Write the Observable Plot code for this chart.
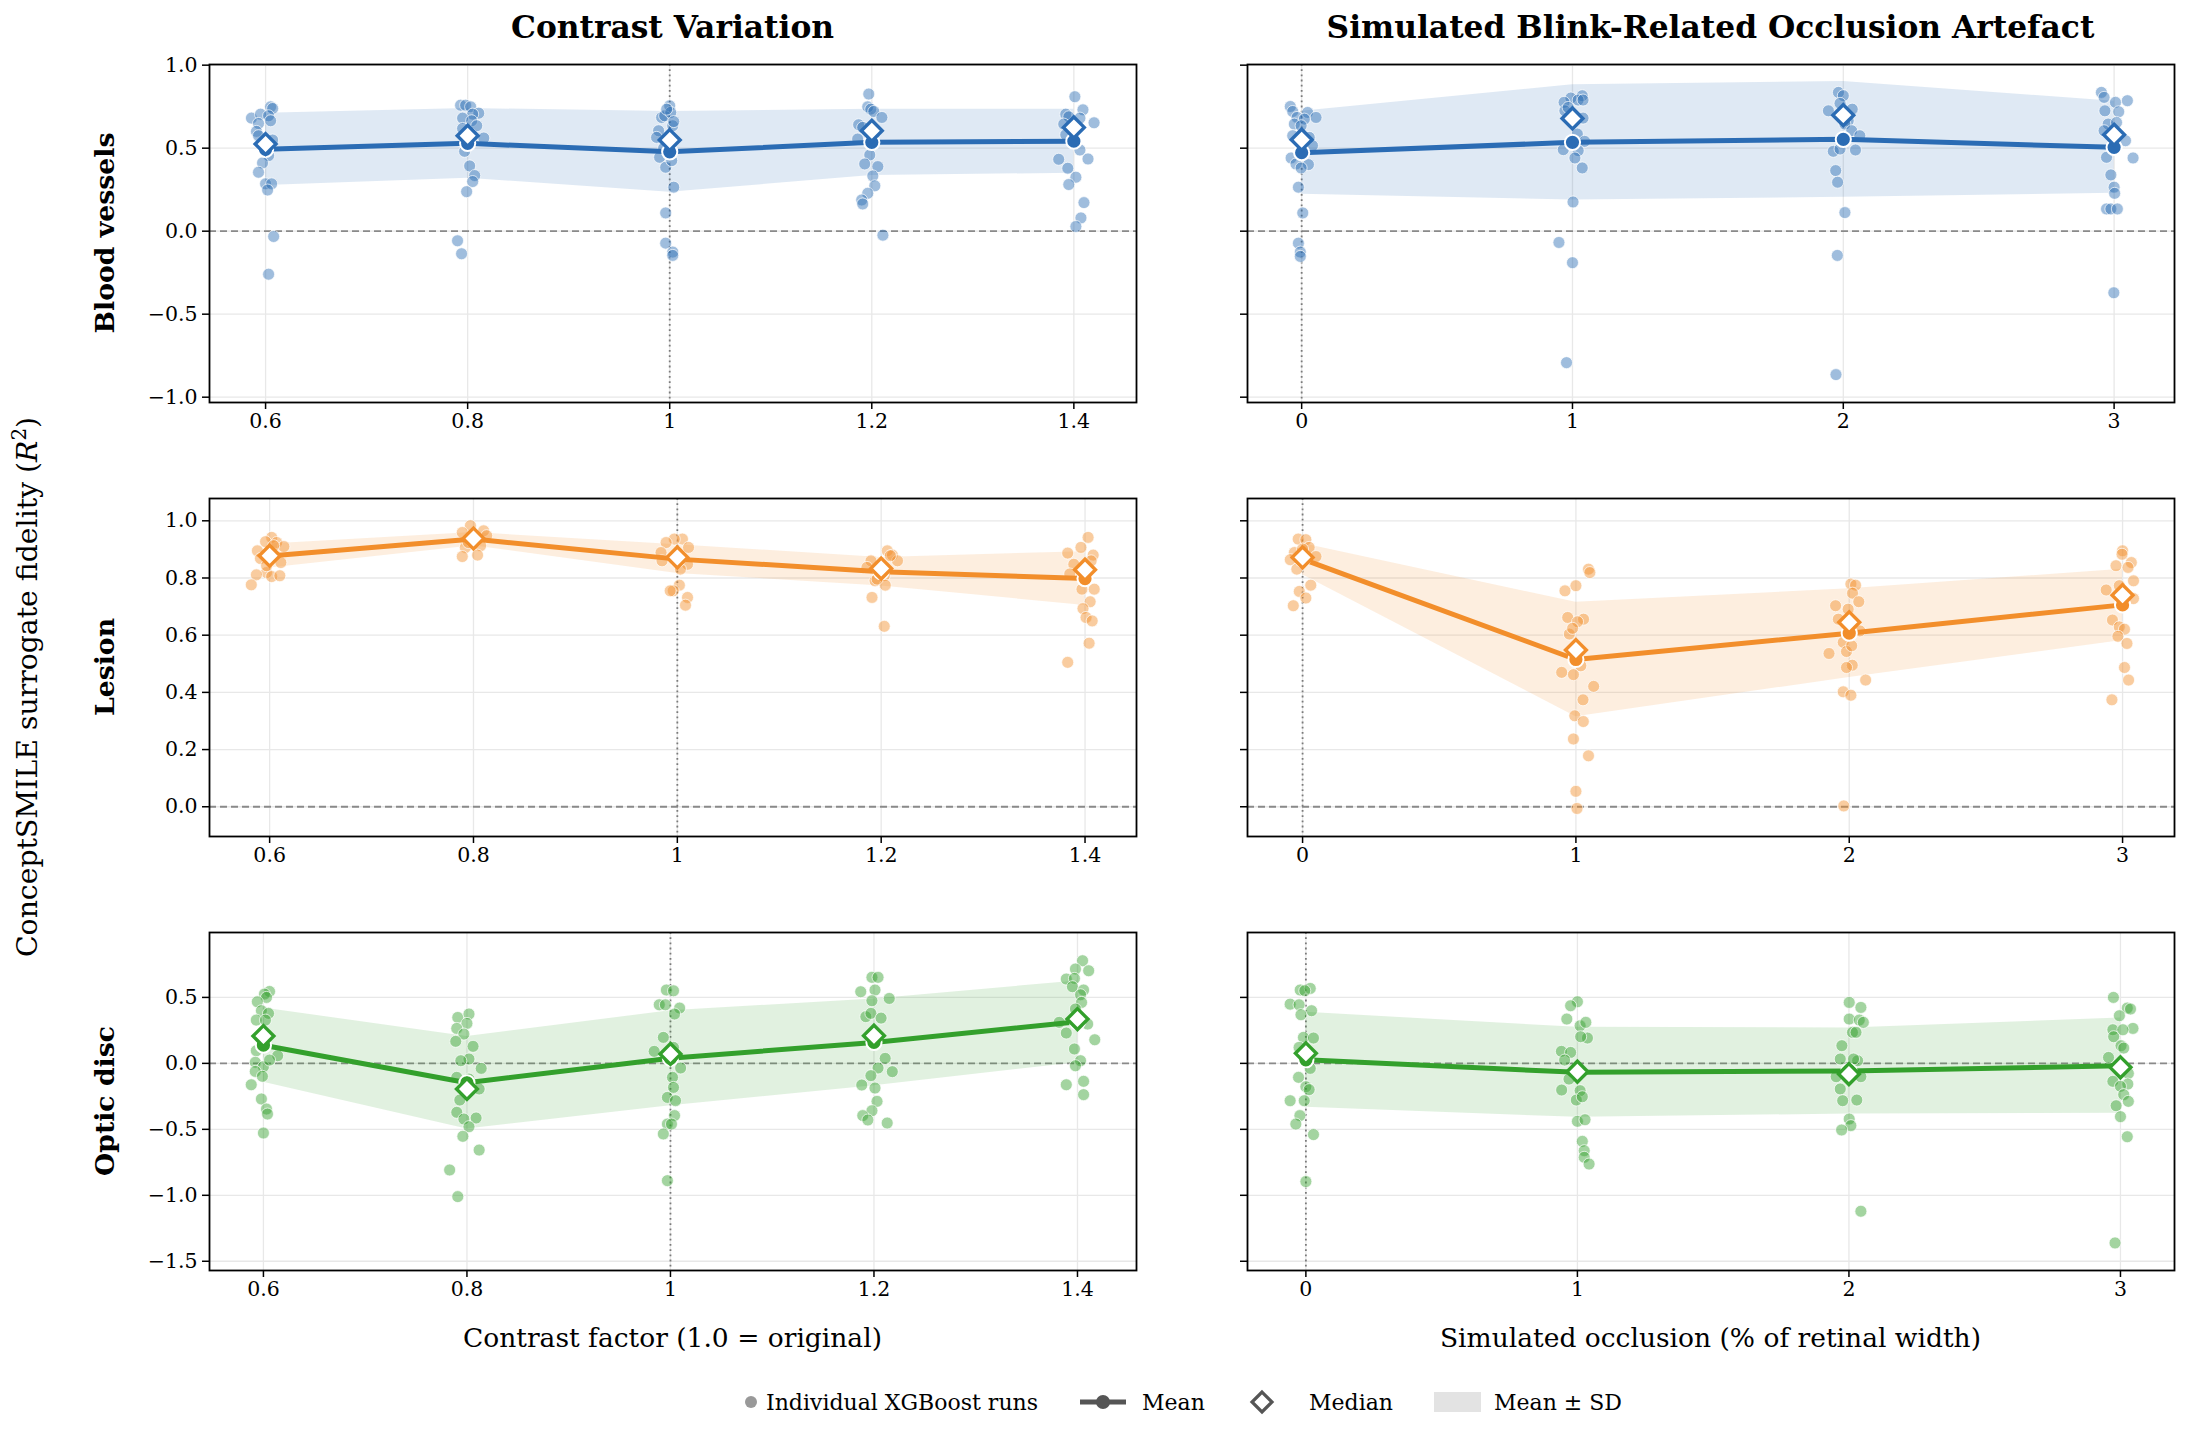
<!DOCTYPE html>
<html>
<head>
<meta charset="utf-8">
<script src="https://cdn.jsdelivr.net/npm/d3@7"></script>
<script src="https://cdn.jsdelivr.net/npm/@observablehq/plot@0.6"></script>
<style>
  body { margin: 0; background: #fff; }
  #fig { position: relative; width: 2190px; height: 1440px; font-family: "DejaVu Serif", serif; color: #000; overflow: hidden; }
  .abs { position: absolute; white-space: nowrap; line-height: 1; }
  .panel { position: absolute; }
</style>
</head>
<body>
<div id="fig"></div>
<script>
// ---- conditions ----
const contrastLevels = [0.6, 0.8, 1.0, 1.2, 1.4];
const occlusionLevels = [0, 1, 2, 3];
const conceptNames = ["Blood vessels", "Lesion", "Optic disc"];
const conceptColors = ["#2b6cb4", "#f28e2b", "#33a02c"];
const columnTitles = ["Contrast Variation", "Simulated Blink-Related Occlusion Artefact"];
const xAxisLabels = ["Contrast factor (1.0 = original)", "Simulated occlusion (% of retinal width)"];
const legendLabels = ["Individual XGBoost runs", "Mean", "Median", "Mean ± SD"];

// ---- tick values ----
const contrastTicks = [0.6, 0.8, 1.0, 1.2, 1.4];
const occlusionTicks = [0, 1, 2, 3];
const vesselsTicks = [-1.0, -0.5, 0.0, 0.5, 1.0];
const lesionTicks = [0.0, 0.2, 0.4, 0.6, 0.8, 1.0];
const discTicks = [-1.5, -1.0, -0.5, 0.0, 0.5];

// ---- summary statistics per condition (R²) ----
const vesselsContrastMean   = [0.493, 0.529, 0.478, 0.535, 0.542];
const vesselsContrastMedian = [0.525, 0.575, 0.549, 0.605, 0.625];
const vesselsContrastSD     = [0.218, 0.210, 0.243, 0.200, 0.193];

const vesselsOcclusionMean   = [0.473, 0.535, 0.553, 0.505];
const vesselsOcclusionMedian = [0.551, 0.679, 0.699, 0.581];
const vesselsOcclusionSD     = [0.250, 0.347, 0.349, 0.277];

const lesionContrastMean   = [0.877, 0.936, 0.866, 0.822, 0.798];
const lesionContrastMedian = [0.878, 0.938, 0.872, 0.833, 0.829];
const lesionContrastSD     = [0.042, 0.023, 0.050, 0.050, 0.094];

const lesionOcclusionMean   = [0.866, 0.515, 0.607, 0.706];
const lesionOcclusionMedian = [0.872, 0.548, 0.645, 0.740];
const lesionOcclusionSD     = [0.055, 0.200, 0.155, 0.125];

const discContrastMean   = [0.138, -0.147, 0.039, 0.159, 0.315];
const discContrastMedian = [0.207, -0.194, 0.071, 0.210, 0.336];
const discContrastSD     = [0.282, 0.350, 0.360, 0.328, 0.310];

const discOcclusionMean   = [0.027, -0.068, -0.058, -0.018];
const discOcclusionMedian = [0.076, -0.063, -0.081, -0.030];
const discOcclusionSD     = [0.360, 0.341, 0.326, 0.361];

// ---- individual runs: [R², horizontal jitter] per condition ----
const vesselsContrastRuns = [
  [[0.681,-0.014],[0.705,-0.005],[0.749,0.005],[0.739,0.007],[0.695,0.003],[0.665,0.005],[0.649,-0.007],[0.601,-0.009],[0.575,-0.007],[0.549,0.007],[0.525,-0.002],[0.455,0.003],[0.411,-0.003],[0.355,-0.007],[0.285,0],[0.285,0.006],[0.248,0.002],[-0.032,0.008],[-0.259,0.003]],
  [[0.759,-0.007],[0.759,-0.002],[0.749,0.003],[0.711,0.011],[0.705,0.005],[0.681,-0.005],[0.665,0.004],[0.635,0.009],[0.619,-0.005],[0.561,0.016],[0.525,0],[0.585,0.003],[0.481,-0.003],[0.393,0.002],[0.335,0.007],[0.299,0.005],[0.238,-0.001],[-0.058,-0.010],[-0.136,-0.006]],
  [[0.685,-0.008],[0.695,-0.005],[0.605,-0.011],[0.565,-0.013],[0.445,-0.010],[0.385,-0.004],[0.110,-0.004],[-0.072,-0.004],[0.755,0],[0.715,0.001],[0.635,0.003],[0.425,0.002],[0.265,0.004],[-0.126,0.003],[-0.146,0.003],[0.735,-0.003],[0.660,0.004],[0.530,0.002],[0.500,-0.006]],
  [[0.826,-0.003],[0.749,-0.004],[0.735,-0.001],[0.721,0.002],[0.685,0.010],[0.641,-0.013],[0.625,-0.009],[0.555,-0.014],[0.459,-0.002],[0.405,-0.007],[0.389,0.006],[0.333,0.001],[0.273,0.003],[0.228,-0.004],[0.188,-0.010],[0.164,-0.009],[-0.024,0.011],[0.605,0],[0.575,0.002]],
  [[0.810,0.001],[0.731,0.009],[0.705,-0.008],[0.689,-0.005],[0.681,0.006],[0.653,0.020],[0.645,-0.010],[0.581,-0.008],[0.489,0.006],[0.435,0.014],[0.433,-0.015],[0.379,-0.006],[0.325,0.002],[0.281,-0.005],[0.172,0.010],[0.080,0.007],[0.028,0.002],[0.545,-0.001]]
];
const vesselsOcclusionRuns = [
  [[0.751,-0.042],[0.721,-0.033],[0.715,0.022],[0.685,0.053],[0.685,-0.017],[0.675,0.010],[0.645,-0.027],[0.635,-0.002],[0.575,-0.033],[0.565,0.028],[0.515,0.040],[0.441,-0.039],[0.405,-0.021],[0.401,0.025],[0.381,-0.002],[0.265,-0.012],[0.110,0.004],[-0.072,-0.012],[-0.126,-0.005],[-0.152,-0.005]],
  [[0.816,0.036],[0.802,-0.006],[0.776,-0.031],[0.790,0.021],[0.790,0.039],[0.725,-0.028],[0.745,-0.016],[0.681,0.039],[0.585,0.018],[0.541,0.045],[0.491,-0.034],[0.485,0.021],[0.441,0.009],[0.381,0.036],[0.176,0.002],[-0.068,-0.050],[-0.190,0],[-0.792,-0.022]],
  [[0.836,-0.018],[0.816,0],[0.770,-0.012],[0.725,-0.055],[0.735,0.033],[0.665,0.018],[0.645,0.006],[0.605,0.031],[0.575,0.061],[0.481,-0.037],[0.495,-0.012],[0.489,0.045],[0.365,-0.028],[0.295,-0.021],[0.112,0.006],[-0.146,-0.022],[-0.864,-0.027]],
  [[0.836,-0.047],[0.806,-0.037],[0.786,0.049],[0.776,0.005],[0.725,-0.034],[0.719,0.017],[0.645,-0.022],[0.655,0.009],[0.605,-0.037],[0.545,0.042],[0.441,0.070],[0.445,-0.028],[0.339,-0.012],[0.265,0],[0.228,0.002],[0.134,-0.028],[0.134,-0.012],[0.134,0.012],[-0.371,-0.001]]
];
const lesionContrastRuns = [
  [[0.942,0.002],[0.927,-0.004],[0.924,0.007],[0.910,0.014],[0.895,-0.012],[0.854,0.011],[0.868,-0.009],[0.819,-0.003],[0.811,-0.013],[0.805,0.002],[0.808,0.010],[0.776,-0.018],[0.913,0.004],[0.843,-0.003]],
  [[0.983,-0.003],[0.959,-0.011],[0.965,0.010],[0.948,0.013],[0.907,-0.008],[0.913,0.007],[0.875,-0.011],[0.880,0.004],[0.942,0.002],[0.924,-0.005]],
  [[0.936,0.005],[0.936,-0.003],[0.907,0.011],[0.848,0.010],[0.831,0.003],[0.775,0.002],[0.755,-0.004],[0.732,0.010],[0.705,0.008],[0.924,-0.011],[0.889,-0.016],[0.860,-0.015],[0.755,-0.007],[0.870,0]],
  [[0.895,0.006],[0.880,0.011],[0.860,0.016],[0.860,-0.010],[0.837,-0.014],[0.808,0.003],[0.790,-0.006],[0.775,0.004],[0.732,-0.009],[0.631,0.003],[0.878,0.009],[0.796,-0.004]],
  [[0.942,0.003],[0.907,-0.004],[0.887,-0.017],[0.880,0.008],[0.848,-0.011],[0.814,-0.015],[0.761,-0.003],[0.761,0.009],[0.717,0.005],[0.693,-0.002],[0.662,0.001],[0.650,0.007],[0.572,0.004],[0.505,-0.017],[0.860,0.006]]
];
const lesionOcclusionRuns = [
  [[0.936,-0.016],[0.934,0.012],[0.889,-0.030],[0.907,0.024],[0.875,0.049],[0.864,-0.045],[0.831,-0.021],[0.775,0.030],[0.753,-0.012],[0.730,0.012],[0.703,-0.034],[0.901,0]],
  [[0.831,0.046],[0.819,0.051],[0.773,0],[0.755,-0.040],[0.662,-0.030],[0.656,0.028],[0.647,0.006],[0.604,-0.024],[0.624,-0.012],[0.470,-0.052],[0.462,-0.009],[0.493,0.018],[0.421,0.065],[0.374,0.026],[0.318,-0.004],[0.298,0.027],[0.237,-0.009],[0.178,0.046],[0.054,0],[-0.006,0.004]],
  [[0.779,0.006],[0.775,0.023],[0.747,0.012],[0.717,0.035],[0.703,-0.050],[0.691,-0.004],[0.656,-0.040],[0.575,-0.022],[0.615,0.039],[0.536,-0.074],[0.543,-0.010],[0.495,0.011],[0.487,-0.010],[0.443,0.060],[0.402,-0.022],[0.390,0.006],[0.003,-0.020],[0.563,0.009]],
  [[0.895,0],[0.883,-0.002],[0.854,0.032],[0.843,-0.024],[0.837,0.020],[0.790,0.040],[0.758,-0.060],[0.773,-0.012],[0.728,0.040],[0.653,-0.037],[0.629,-0.012],[0.621,0.007],[0.596,-0.017],[0.571,0.016],[0.487,0.007],[0.443,0.022],[0.374,-0.039]]
];
const discContrastRuns = [
  [[0.545,0.006],[0.525,0.001],[0.500,0.003],[0.467,-0.006],[0.399,-0.002],[0.379,0.005],[0.328,-0.007],[0.328,0.002],[0.058,0.014],[0.096,-0.007],[0.008,-0.008],[-0.025,0],[-0.061,-0.008],[-0.098,-0.001],[-0.162,-0.012],[-0.270,-0.002],[-0.346,0.003],[-0.384,0.004],[-0.528,0],[0.025,0.006]],
  [[0.348,-0.009],[0.374,0.002],[0.303,0],[0.265,-0.010],[0.222,-0.003],[0.167,-0.011],[0.129,0.006],[0.033,0.002],[0.020,-0.006],[-0.038,0.014],[-0.106,-0.010],[-0.119,0.002],[-0.194,0.012],[-0.278,-0.007],[-0.371,-0.010],[-0.422,-0.003],[-0.414,0.009],[-0.480,0.002],[-0.553,-0.004],[-0.657,0.012],[-0.808,-0.017],[-1.010,-0.009]],
  [[0.556,-0.004],[0.444,-0.011],[0.444,-0.005],[0.197,-0.007],[0.091,-0.016],[-0.258,-0.003],[-0.460,-0.003],[-0.535,-0.007],[-0.889,-0.003],[0.550,0.003],[0.419,0.009],[0.374,0.004],[0.121,0.003],[-0.035,0.010],[-0.106,0.002],[-0.182,0.003],[-0.283,0.005],[-0.396,0.004],[-0.460,0.001],[0.060,0]],
  [[0.652,-0.002],[0.652,0.004],[0.543,-0.013],[0.556,0.001],[0.475,-0.002],[0.492,0.015],[0.354,-0.008],[0.379,-0.003],[0.343,0.007],[0.038,0.011],[-0.035,0.004],[-0.063,0.018],[-0.093,-0.003],[-0.164,-0.012],[-0.187,0.001],[-0.288,0.003],[-0.359,-0.002],[-0.396,-0.011],[-0.429,-0.006],[-0.452,0.013],[0.172,0]],
  [[0.778,0.005],[0.715,-0.002],[0.702,0.011],[0.639,-0.011],[0.644,-0.003],[0.581,-0.005],[0.556,0.006],[0.520,0.003],[0.462,0.004],[0.412,-0.002],[0.311,-0.018],[0.298,0.010],[0.179,0.017],[0.230,-0.011],[0.109,-0.003],[0.020,0.003],[-0.018,-0.002],[-0.136,0.006],[-0.162,-0.011],[-0.237,0.006]]
];
const discOcclusionRuns = [
  [[0.556,-0.021],[0.568,0.016],[0.551,-0.004],[0.449,-0.058],[0.444,-0.025],[0.399,0.021],[0.369,-0.018],[0.197,-0.009],[0.192,0.028],[0.121,-0.025],[-0.038,0.016],[-0.106,-0.027],[-0.177,0],[-0.199,0.012],[-0.283,-0.058],[-0.283,-0.006],[-0.396,-0.022],[-0.460,-0.037],[-0.540,0.028],[-0.896,0]],
  [[0.467,0],[0.437,-0.025],[0.336,-0.039],[0.285,0.010],[0.311,0.031],[0.192,0.037],[0.202,0.012],[0.091,-0.059],[0.083,-0.025],[0.025,-0.047],[-0.119,-0.031],[-0.202,-0.058],[-0.207,0.010],[-0.278,-0.004],[-0.253,0.018],[-0.439,0],[-0.427,0.028],[-0.591,0.018],[-0.662,0.025],[-0.712,0.025],[-0.763,0.043]],
  [[0.462,0.001],[0.424,0.044],[0.336,0.001],[0.328,0.038],[0.311,0.053],[0.235,0.013],[0.235,0.026],[0.134,-0.026],[0.033,-0.032],[0.020,0.032],[0.033,0.017],[-0.101,-0.047],[-0.101,0.044],[-0.194,-0.032],[-0.283,-0.023],[-0.278,0.029],[-0.422,0.001],[-0.472,0.007],[-0.505,-0.027],[-1.121,0.044]],
  [[0.500,-0.026],[0.419,0.025],[0.412,0.037],[0.361,-0.004],[0.265,0.046],[0.255,-0.028],[0.255,0.009],[0.202,-0.025],[0.134,0.002],[0.116,0.012],[0.045,-0.044],[-0.076,0.029],[-0.136,-0.028],[-0.157,0.027],[-0.174,0],[-0.237,0.012],[-0.288,0.029],[-0.321,-0.016],[-0.404,0],[-0.556,0.025],[-1.361,-0.020]]
];

// ---- page layout ----
const fig = document.getElementById("fig");
const FONT = "DejaVu Serif";
const FRAME_W = 927, FRAME_H = 338;
const M = {left: 66, right: 3, top: 2, bottom: 42};
const colLeft = [209, 1247];
const rowTop = [64, 498, 932];

const fmtY = d3.format(".1f");

const panels = [
  {row: 0, col: 0, levels: contrastLevels, mean: vesselsContrastMean, median: vesselsContrastMedian, sd: vesselsContrastSD, runs: vesselsContrastRuns, xDomain: [0.5445, 1.462], yDomain: [-1.032, 1.004]},
  {row: 0, col: 1, levels: occlusionLevels, mean: vesselsOcclusionMean, median: vesselsOcclusionMedian, sd: vesselsOcclusionSD, runs: vesselsOcclusionRuns, xDomain: [-0.2, 3.223], yDomain: [-1.032, 1.004]},
  {row: 1, col: 0, levels: contrastLevels, mean: lesionContrastMean, median: lesionContrastMedian, sd: lesionContrastSD, runs: lesionContrastRuns, xDomain: [0.541, 1.4505], yDomain: [-0.104, 1.078]},
  {row: 1, col: 1, levels: occlusionLevels, mean: lesionOcclusionMean, median: lesionOcclusionMedian, sd: lesionOcclusionSD, runs: lesionOcclusionRuns, xDomain: [-0.2015, 3.19], yDomain: [-0.104, 1.078]},
  {row: 2, col: 0, levels: contrastLevels, mean: discContrastMean, median: discContrastMedian, sd: discContrastSD, runs: discContrastRuns, xDomain: [0.547, 1.458], yDomain: [-1.57, 0.992]},
  {row: 2, col: 1, levels: occlusionLevels, mean: discOcclusionMean, median: discOcclusionMedian, sd: discOcclusionSD, runs: discOcclusionRuns, xDomain: [-0.215, 3.199], yDomain: [-1.57, 0.992]}
];
const rowTicks = [vesselsTicks, lesionTicks, discTicks];
const colTicks = [contrastTicks, occlusionTicks];
const refLevel = [1.0, 0];

for (const p of panels) {
  const color = conceptColors[p.row];
  const stats = p.levels.map((level, i) => ({level, mean: p.mean[i], median: p.median[i], sd: p.sd[i]}));
  const runs = p.runs.flatMap((group, i) => group.map(([value, jitter]) => ({level: p.levels[i], value, jitter})));
  const yTicks = rowTicks[p.row];
  const xTicks = colTicks[p.col];

  const chart = Plot.plot({
    width: FRAME_W + M.left + M.right,
    height: FRAME_H + M.top + M.bottom,
    marginLeft: M.left, marginRight: M.right, marginTop: M.top, marginBottom: M.bottom,
    x: {domain: p.xDomain},
    y: {domain: p.yDomain},
    style: {fontFamily: FONT, fontSize: "20.5px", color: "#000", background: "transparent", overflow: "visible"},
    marks: [
      Plot.gridY(yTicks, {stroke: "#e8e8e8", strokeOpacity: 1, strokeWidth: 1.3}),
      Plot.gridX(xTicks, {stroke: "#e8e8e8", strokeOpacity: 1, strokeWidth: 1.3}),
      Plot.ruleY([0], {stroke: "#8a8a8a", strokeWidth: 1.8, strokeDasharray: "7,4"}),
      Plot.ruleX([refLevel[p.col]], {stroke: "#7a7a7a", strokeWidth: 1.8, strokeDasharray: "1.8,3.4"}),
      Plot.areaY(stats, {x: "level", y1: d => d.mean - d.sd, y2: d => d.mean + d.sd, fill: color, fillOpacity: 0.15}),
      Plot.dot(runs, {x: d => d.level + d.jitter, y: "value", r: 6, fill: color, fillOpacity: 0.45, stroke: "white", strokeOpacity: 0.7, strokeWidth: 1}),
      Plot.line(stats, {x: "level", y: "mean", stroke: color, strokeWidth: 5}),
      Plot.dot(stats, {x: "level", y: "mean", r: 7.6, fill: color, stroke: "white", strokeWidth: 2}),
      Plot.dot(stats, {x: "level", y: "median", symbol: "diamond2", r: 9.4, fill: "white", stroke: color, strokeWidth: 3.4}),
      Plot.axisY(yTicks, {tickSize: 7, tickPadding: 5, strokeWidth: 1.5, label: null,
        tickFormat: p.col === 0 ? fmtY : () => ""}),
      Plot.axisX(xTicks, {tickSize: 7, tickPadding: 4, strokeWidth: 1.5, label: null, tickFormat: d => String(d)}),
      Plot.frame({stroke: "#000", strokeWidth: 1.8})
    ]
  });
  const holder = document.createElement("div");
  holder.className = "panel";
  holder.style.left = (colLeft[p.col] - M.left) + "px";
  holder.style.top = (rowTop[p.row] - M.top) + "px";
  holder.appendChild(chart);
  fig.appendChild(holder);
}

// ---- text: titles, row labels, axis labels ----
function addText(html, x, y, css, rotate = false) {
  const el = document.createElement("div");
  el.className = "abs";
  el.innerHTML = html;
  el.style.left = x + "px";
  el.style.top = y + "px";
  el.style.transform = rotate ? "translate(-50%, -50%) rotate(-90deg)" : "translate(-50%, -50%)";
  Object.assign(el.style, css);
  fig.appendChild(el);
}
const colCenter = colLeft.map(l => l + FRAME_W / 2);
const rowCenter = rowTop.map(t => t + FRAME_H / 2);

columnTitles.forEach((t, i) => addText(t, colCenter[i], 28, {fontSize: "31.3px", fontWeight: "bold"}));
xAxisLabels.forEach((t, i) => addText(t, colCenter[i], 1338, {fontSize: "26.5px"}));
conceptNames.forEach((t, i) => addText(t, 105, rowCenter[i], {fontSize: "26.7px", fontWeight: "bold"}, true));
addText("ConceptSMILE surrogate fidelity (<i>R</i><sup style=\"font-size:0.7em;vertical-align:0.55em;line-height:0\">2</sup>)",
  28, 687, {fontSize: "28.3px"}, true);

// ---- legend ----
const legend = d3.select(fig).append("svg")
  .attr("width", 2190).attr("height", 44)
  .style("position", "absolute").style("left", "0px").style("top", "1380px")
  .style("font-family", FONT).style("font-size", "22px");
const ly = 22;
const gray = "#555";
legend.append("circle").attr("cx", 751).attr("cy", ly).attr("r", 6).attr("fill", gray).attr("fill-opacity", 0.6);
legend.append("text").attr("x", 766).attr("y", ly).attr("dy", "0.35em").text(legendLabels[0]);
legend.append("line").attr("x1", 1080).attr("x2", 1126).attr("y1", ly).attr("y2", ly).attr("stroke", gray).attr("stroke-width", 5);
legend.append("circle").attr("cx", 1103).attr("cy", ly).attr("r", 7).attr("fill", gray);
legend.append("text").attr("x", 1142).attr("y", ly).attr("dy", "0.35em").text(legendLabels[1]);
legend.append("path").attr("d", d3.symbol(d3.symbolDiamond2, Math.PI * 81)()).attr("transform", `translate(1262,${ly})`)
  .attr("fill", "white").attr("stroke", gray).attr("stroke-width", 3.2);
legend.append("text").attr("x", 1309).attr("y", ly).attr("dy", "0.35em").text(legendLabels[2]);
legend.append("rect").attr("x", 1434).attr("y", ly - 10).attr("width", 47).attr("height", 20).attr("fill", "#e3e3e3");
legend.append("text").attr("x", 1494).attr("y", ly).attr("dy", "0.35em").text(legendLabels[3]);
</script>
</body>
</html>
